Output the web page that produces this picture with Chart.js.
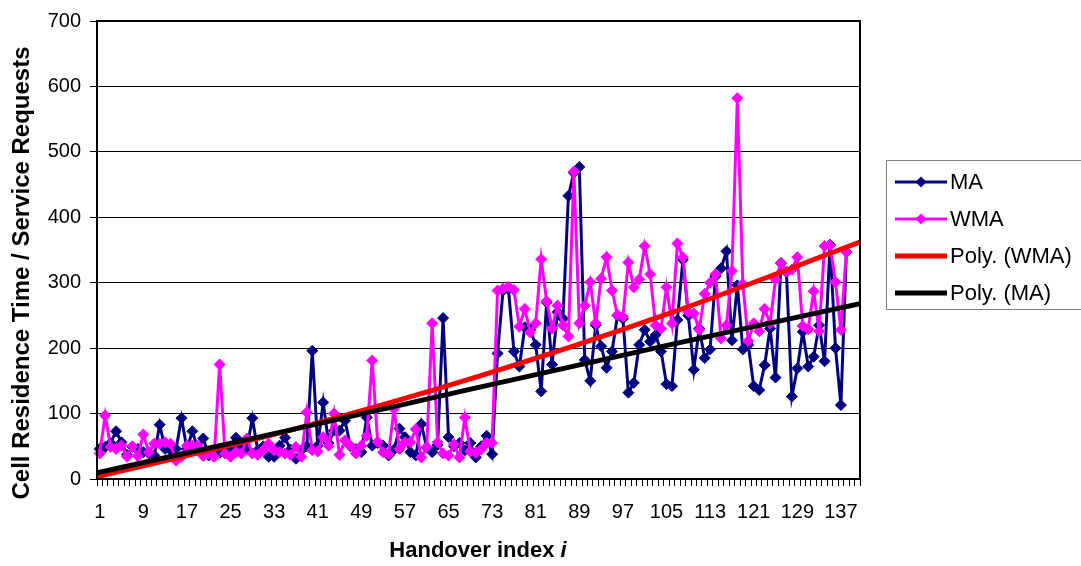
<!DOCTYPE html>
<html>
<head>
<meta charset="utf-8">
<script src="https://cdn.jsdelivr.net/npm/chart.js@4.4.0/dist/chart.umd.min.js"></script>
<style>
  html, body { margin: 0; padding: 0; background: #fff; }
  #wrap { width: 1081px; height: 566px; }
</style>
</head>
<body>
<div id="wrap"><canvas id="chart" width="1081" height="566"></canvas></div>
<script>
// handover index 1..140 (data stops at 138, trendlines run to the edge)
const categories = Array.from({ length: 140 }, (_, i) => String(i + 1));

const maValues = [
  46, 49, 55, 73, 56, 37, 49, 46, 41, 39, 36, 83, 46, 44, 46, 93, 46, 73, 46, 62,
  36, 36, 40, 44, 48, 63, 50, 46, 93, 44, 50, 34, 34, 51, 63, 45, 31, 44, 50, 196,
  51, 117, 55, 74, 74, 89, 50, 46, 41, 94, 51, 55, 51, 36, 45, 77, 64, 41, 36, 84,
  48, 41, 52, 246, 64, 50, 55, 44, 55, 33, 50, 66, 38, 192, 288, 290, 195, 172, 232, 228,
  205, 134, 270, 175, 255, 245, 433, 468, 477, 182, 150, 235, 203, 170, 195, 250, 245, 132, 147, 205,
  228, 210, 220, 195, 145, 142, 243, 335, 250, 167, 230, 185, 198, 310, 322, 348, 212, 296, 198, 205,
  142, 136, 174, 230, 155, 330, 316, 126, 169, 225, 172, 187, 235, 180, 358, 200, 113, 347
];

const wmaValues = [
  39, 97, 49, 46, 51, 34, 50, 35, 68, 41, 54, 54, 56, 54, 28, 34, 51, 51, 51, 35,
  39, 34, 175, 39, 34, 41, 39, 62, 39, 37, 44, 54, 44, 41, 39, 37, 49, 34, 102, 44,
  42, 64, 51, 100, 37, 59, 51, 39, 51, 66, 181, 57, 41, 38, 107, 46, 56, 56, 76, 33,
  49, 238, 56, 39, 36, 53, 33, 94, 42, 40, 45, 55, 55, 288, 291, 294, 289, 233, 260, 224,
  238, 336, 272, 230, 265, 235, 218, 470, 238, 265, 301, 238, 306, 339, 288, 251, 248, 331, 293, 305,
  356, 313, 235, 230, 293, 238, 360, 339, 255, 253, 228, 283, 300, 313, 215, 235, 318, 582, 298, 211,
  238, 226, 260, 238, 305, 330, 317, 320, 339, 234, 229, 287, 226, 356, 357, 301, 228, 347
];

// trendlines at a few handover positions
const trendX = [0.5, 35.5, 70.5, 105.5, 140.5];
const polyWmaValues = [3.5, 73.6, 156.8, 253, 362];
const polyMaValues = [9.5, 74, 140, 205, 268];

const yTicks = [0, 100, 200, 300, 400, 500, 600, 700];

const FONT = '"Liberation Sans", Arial, sans-serif';

// frame, axis titles and legend box like the Excel original
const decorations = {
  id: 'decorations',
  afterDraw(chart) {
    const ctx = chart.ctx;
    const area = chart.chartArea;
    ctx.save();

    ctx.strokeStyle = '#000';
    ctx.lineWidth = 2;
    ctx.strokeRect(area.left, area.top, area.right - area.left, area.bottom - area.top);

    // x title with italic i
    ctx.fillStyle = '#000';
    ctx.textBaseline = 'middle';
    const part1 = 'Handover index ';
    const part2 = 'i';
    ctx.font = 'bold 22px ' + FONT;
    const w1 = ctx.measureText(part1).width;
    ctx.font = 'italic bold 22px ' + FONT;
    const w2 = ctx.measureText(part2).width;
    const tx = 478 - (w1 + w2) / 2;
    ctx.font = 'bold 22px ' + FONT;
    ctx.textAlign = 'left';
    ctx.fillText(part1, tx, 551);
    ctx.font = 'italic bold 22px ' + FONT;
    ctx.fillText(part2, tx + w1, 551);

    // y title
    ctx.save();
    ctx.translate(22, 273);
    ctx.rotate(-Math.PI / 2);
    ctx.textAlign = 'center';
    ctx.font = 'bold 24px ' + FONT;
    ctx.fillText('Cell Residence Time / Service Requests', 0, 0);
    ctx.restore();

    // legend
    ctx.fillStyle = '#fff';
    ctx.fillRect(886, 160, 200, 149);
    ctx.strokeStyle = '#808080';
    ctx.lineWidth = 1;
    ctx.strokeRect(886.5, 160.5, 200, 149);

    chart.data.datasets.forEach((ds, k) => {
      const y = 182 + k * 37;
      ctx.strokeStyle = ds.borderColor;
      ctx.lineWidth = ds.borderWidth;
      ctx.beginPath();
      ctx.moveTo(895, y);
      ctx.lineTo(947, y);
      ctx.stroke();
      if (ds.pointRadius > 0) {
        const r = 5.5;
        ctx.fillStyle = ds.pointBackgroundColor;
        ctx.beginPath();
        ctx.moveTo(921 - r, y);
        ctx.lineTo(921, y - r);
        ctx.lineTo(921 + r, y);
        ctx.lineTo(921, y + r);
        ctx.closePath();
        ctx.fill();
      }
      ctx.fillStyle = '#000';
      ctx.font = '22px ' + FONT;
      ctx.textAlign = 'left';
      ctx.fillText(ds.label, 950, y + 1);
    });

    ctx.restore();
  }
};

const ctx = document.getElementById('chart').getContext('2d');
new Chart(ctx, {
  type: 'line',
  data: {
    labels: categories,
    datasets: [
      {
        label: 'MA',
        data: maValues,
        xAxisID: 'x',
        borderColor: '#000080',
        backgroundColor: '#000080',
        pointBackgroundColor: '#000080',
        pointBorderColor: '#000080',
        borderWidth: 3,
        pointStyle: 'rectRot',
        pointRadius: 5.5,
        pointBorderWidth: 1,
        tension: 0,
        order: 3
      },
      {
        label: 'WMA',
        data: wmaValues,
        xAxisID: 'x',
        borderColor: '#FF00FF',
        backgroundColor: '#FF00FF',
        pointBackgroundColor: '#FF00FF',
        pointBorderColor: '#FF00FF',
        borderWidth: 3,
        pointStyle: 'rectRot',
        pointRadius: 5.5,
        pointBorderWidth: 1,
        tension: 0,
        order: 2
      },
      {
        label: 'Poly. (WMA)',
        data: trendX.map((x, k) => ({ x: x, y: polyWmaValues[k] })),
        xAxisID: 'xt',
        borderColor: '#FF0000',
        backgroundColor: '#FF0000',
        borderWidth: 5,
        pointRadius: 0,
        cubicInterpolationMode: 'monotone',
        order: 1
      },
      {
        label: 'Poly. (MA)',
        data: trendX.map((x, k) => ({ x: x, y: polyMaValues[k] })),
        xAxisID: 'xt',
        borderColor: '#000000',
        backgroundColor: '#000000',
        borderWidth: 5,
        pointRadius: 0,
        cubicInterpolationMode: 'monotone',
        order: 0
      }
    ]
  },
  options: {
    responsive: false,
    animation: false,
    layout: { padding: { top: 16, right: 221, bottom: 0, left: 0 } },
    plugins: {
      legend: { display: false },
      tooltip: { enabled: false }
    },
    scales: {
      x: {
        type: 'category',
        offset: true,
        grid: { offset: true, drawOnChartArea: false, drawTicks: true, tickLength: 7, color: '#000', lineWidth: 1 },
        border: { display: true, color: '#000', width: 2 },
        ticks: {
          autoSkip: false,
          maxRotation: 0,
          minRotation: 0,
          padding: 14,
          color: '#000',
          font: { family: FONT, size: 20 },
          callback: function (v, i) { return i % 8 === 0 ? this.getLabelForValue(v) : ''; }
        },
        afterFit: s => { s.height = 87; }
      },
      xt: { type: 'linear', display: false, min: 0.5, max: 140.5 },
      y: {
        min: 0,
        max: 700,
        afterBuildTicks: s => { s.ticks = yTicks.map(v => ({ value: v })); },
        grid: { color: '#000', lineWidth: 1, tickLength: 7, drawTicks: true },
        border: { color: '#000', width: 2 },
        ticks: { padding: 9, color: '#000', font: { family: FONT, size: 20 } },
        afterFit: s => { s.width = 97; }
      }
    }
  },
  plugins: [decorations]
});
</script>
</body>
</html>
